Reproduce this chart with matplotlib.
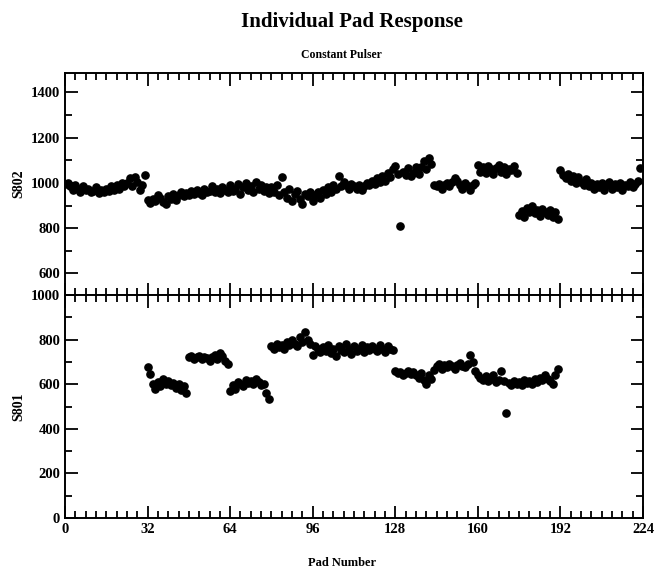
import numpy as np
import matplotlib
matplotlib.use("Agg")
import matplotlib.pyplot as plt
from matplotlib import ticker

plt.rcParams['font.family'] = ['Liberation Serif', 'DejaVu Serif']
plt.rcParams['font.weight'] = 'bold'

pads = np.arange(224)

# S802 response per pad (0..223)
s802 = [
    995, 1000, 985, 970, 990, 975, 960, 985, 970, 975, 960, 965, 980, 955, 970, 960,
    975, 965, 985, 970, 990, 975, 1000, 985, 1000, 1020, 985, 1025, 1005, 970, 990, 1035,
    925, 910, 930, 920, 945, 935, 915, 905, 940, 930, 950, 925, 945, 960, 940, 955,
    945, 965, 950, 970, 955, 945, 975, 960, 965, 985, 960, 975, 955, 980, 970, 960,
    990, 965, 975, 995, 950, 980, 1000, 970, 985, 960, 1005, 975, 990, 965, 980, 955,
    980, 960, 990, 945, 1025, 960, 935, 975, 920, 950, 965, 930, 905, 950, 940, 960,
    920, 945, 960, 935, 970, 950, 980, 960, 990, 975, 1030, 985, 1005, 990, 975, 995,
    985, 975, 990, 970, 985, 1000, 990, 1010, 995, 1020, 1005, 1030, 1010, 1045, 1025, 1060,
    1075, 1040, 810, 1050, 1035, 1065, 1030, 1045, 1070, 1040, 1070, 1095, 1060, 1110, 1085, 990,
    985, 995, 975, 990, 1000, 985, 1005, 1020, 1010, 990, 975, 1000, 985, 970, 990, 1000,
    1080, 1050, 1070, 1045, 1075, 1060, 1040, 1065, 1080, 1050, 1070, 1040, 1060, 1055, 1075, 1045,
    860, 875, 850, 890, 870, 900, 865, 880, 855, 885, 870, 860, 880, 850, 870, 840,
    1055, 1035, 1020, 1040, 1010, 1030, 1000, 1025, 1005, 990, 1015, 985, 1000, 975, 995, 980,
    1000, 970, 990, 1005, 975, 995, 980, 1000, 970, 990, 985, 1005, 980, 995, 1010, 1065,
]

nan = np.nan
# S801 response per pad (no data for pads 0-31 and 192-223)
s801 = [nan] * 32 + [
    678, 645, 600, 580, 610, 590, 625, 600, 615, 595, 605, 585, 600, 575, 590, 560,
    720, 725, 715, 720, 728, 712, 722, 718, 705, 720, 730, 715, 740, 725, 705, 690,
    570, 595, 580, 610, 600, 590, 620, 605, 615, 600, 625, 610, 595, 600, 560, 535,
    770, 760, 780, 765, 775, 760, 790, 775, 800, 780, 770, 810, 790, 835, 800, 780,
    730, 770, 760, 745, 765, 750, 775, 740, 760, 725, 770, 755, 745, 780, 760, 735,
    770, 750, 760, 775, 745, 765, 755, 770, 760, 750, 775, 760, 745, 770, 760, 755,
    660, 650, 655, 640, 650, 660, 645, 655, 640, 630, 650, 620, 600, 640, 625, 665,
    680, 690, 670, 685, 675, 690, 680, 670, 685, 695, 680, 675, 690, 730, 700, 660,
    640, 630, 620, 635, 615, 625, 640, 610, 620, 660, 615, 470, 605, 595, 615, 600,
    610, 595, 620, 605, 615, 600, 625, 610, 630, 620, 640, 625, 615, 600, 640, 670,
] + [nan] * 32

fig = plt.figure(figsize=(6.57, 5.75), dpi=100)
left, right = 65 / 657, 643 / 657
ax1 = fig.add_axes([left, 1 - 295 / 575, right - left, 222 / 575])
ax2 = fig.add_axes([left, 1 - 518 / 575, right - left, 223 / 575])

ax1.plot(pads, s802, 'o', color='black', ms=5.2, mec='black')
ax2.plot(pads, s801, 'o', color='black', ms=5.2, mec='black')

ax1.set_ylim(505, 1485)
ax1.yaxis.set_major_locator(ticker.FixedLocator([600, 800, 1000, 1200, 1400]))
ax1.yaxis.set_minor_locator(ticker.MultipleLocator(100))
ax2.set_ylim(0, 1000)
ax2.yaxis.set_major_locator(ticker.MultipleLocator(200))
ax2.yaxis.set_minor_locator(ticker.MultipleLocator(100))

for ax in (ax1, ax2):
    ax.set_xlim(0, 224)
    ax.xaxis.set_major_locator(ticker.MultipleLocator(32))
    ax.xaxis.set_minor_locator(ticker.MultipleLocator(4))
    ax.tick_params(which='both', direction='in', top=True, right=True, width=1.3,
                   labelsize=10.5)
    ax.tick_params(which='major', length=9)
    ax.tick_params(which='minor', length=5)
    for sp in ax.spines.values():
        sp.set_linewidth(1.4)

ax1.tick_params(labelbottom=False)
ax1.set_ylabel('S802', fontsize=10, fontweight='bold', labelpad=4)
ax2.set_ylabel('S801', fontsize=10, fontweight='bold', labelpad=4)

fig.text(0.535, 1 - 22 / 575, 'Individual Pad Response', ha='center', va='center',
         fontsize=15, fontweight='bold')
fig.text(0.52, 1 - 55 / 575, 'Constant Pulser', ha='center', va='center',
         fontsize=8.5, fontweight='bold')
fig.text(0.52, 1 - 563 / 575, 'Pad Number', ha='center', va='center',
         fontsize=9, fontweight='bold')

fig.savefig('out.png', dpi=100)
